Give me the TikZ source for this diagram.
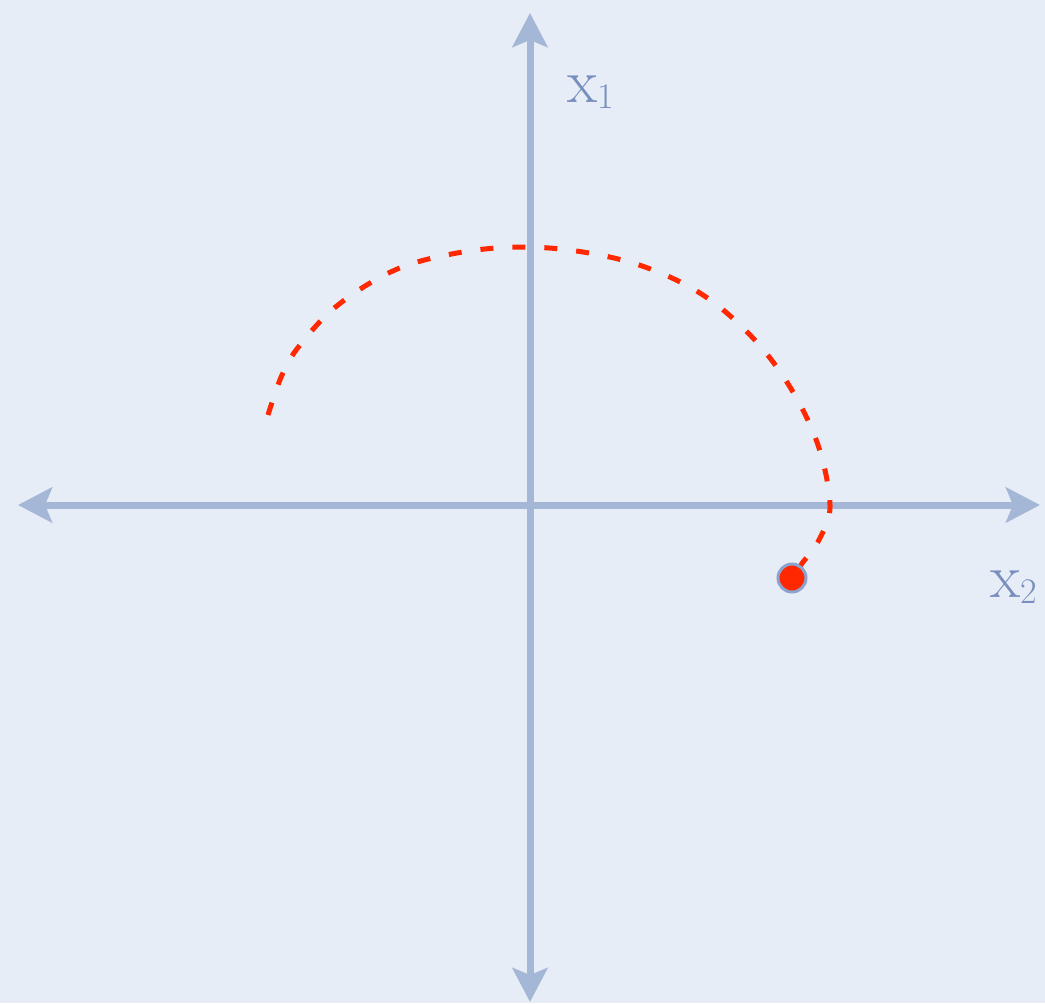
\documentclass[tikz,border=0pt]{standalone}
\usetikzlibrary{arrows.meta}
\definecolor{bgc}{RGB}{231,237,246}
\definecolor{axc}{RGB}{164,183,214}
\definecolor{labc}{RGB}{120,142,190}
\definecolor{redc}{RGB}{255,40,0}
\definecolor{dotline}{RGB}{140,163,205}
\tikzset{
  axis/.style={draw=axc, line width=3.5pt, {Stealth[length=17pt,width=17.5pt,inset=3.5pt]}-{Stealth[length=17pt,width=17.5pt,inset=3.5pt]}},
  lab/.style={text=labc, font=\fontsize{31}{36}\selectfont, inner sep=0pt, anchor=base west},
  traj/.style={draw=redc, line width=2.5pt, dash pattern=on 6.5pt off 9.5pt},
  dotnode/.style={circle, fill=redc, draw=dotline, line width=1.5pt, minimum size=14pt, inner sep=0pt}
}
\begin{document}
\begin{tikzpicture}[x=0.5pt,y=-0.5pt]
\fill[bgc] (0,0) rectangle (1045,1003);
\useasboundingbox (0,0) rectangle (1045,1003);
\coordinate (top) at (530,13);
\coordinate (bot) at (530,1002);
\coordinate (left) at (18,505);
\coordinate (right) at (1040,505);
\draw[axis] (bot) -- (top);
\draw[axis] (left) -- (right);
\node[lab] (x1) at (567,102) {x\raisebox{-3pt}{\fontsize{18}{18}\selectfont 1}};
\node[lab] (x2) at (990,597) {x\raisebox{-3pt}{\fontsize{18}{18}\selectfont 2}};
\coordinate (pc) at (792,578);
\draw[traj] plot[smooth, tension=0.6] coordinates {(268,415) (282,375) (300,345) (338,305) (395,270) (457,253) (520,247) (583,252) (645,267) (703,295) (752,337) (790,387) (818,445) (830,505) (820,538) (803,562)} -- (pc);
\node[dotnode] (p) at (pc) {};
\end{tikzpicture}
\end{document}
